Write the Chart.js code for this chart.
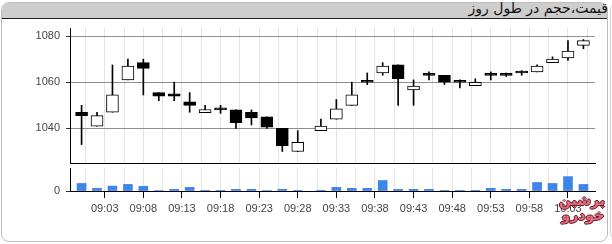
<!DOCTYPE html>
<html>
<head>
<meta charset="utf-8">
<script src="https://cdn.jsdelivr.net/npm/chart.js@4.4.1/dist/chart.umd.min.js"></script>
<style>
  html, body { margin: 0; padding: 0; background: #fff; }
  body { width: 612px; height: 244px; position: relative; overflow: hidden; }
  .frame {
    position: absolute; left: 1px; top: 2px; width: 605px; height: 238px;
    border: 1px solid #bdbdbd; border-radius: 8px; overflow: hidden; background: #fff;
  }
  .head {
    height: 15px; background: #cdcdcd; border-bottom: 1px solid #1e1e1e;
  }
  .title {
    position: absolute; right: 4px; top: 0px;
    font: 14px "DejaVu Sans", sans-serif; color: #111; direction: rtl; white-space: nowrap;
  }
  .side { position: absolute; left: 610px; top: 2px; width: 10px; height: 238px;
    border-left: 1px solid #cfcfcf; border-radius: 8px 0 0 8px; }
  .mark {
    position: absolute; left: 561px; top: 193px; width: 44px; text-align: center;
    font: bold 14px "DejaVu Sans", sans-serif; line-height: 15px; color: #e56d80; direction: rtl;
    text-shadow: -1px 0 #6a1e2a, 1px 0 #6a1e2a, 0 -1px #6a1e2a, 0 1px #6a1e2a;
  }
  canvas { position: absolute; left: 0; top: 0; }
</style>
</head>
<body>
<div class="frame"><div class="head"></div></div>
<div class="title">قیمت،حجم در طول روز</div>
<div class="side"></div>
<canvas id="priceChart" width="612" height="244"></canvas>
<canvas id="volumeChart" width="612" height="244"></canvas>
<div class="mark">پرشین<br>خودرو</div>
<script>
// داده‌های نمودار (خوانده شده از تصویر)
const times = ['09:00','09:02','09:04','09:06','09:08','09:10','09:12','09:14','09:16','09:18',
  '09:20','09:22','09:24','09:26','09:28','09:31','09:33','09:35','09:37','09:39',
  '09:41','09:43','09:45','09:47','09:49','09:51','09:53','09:55','09:57','09:59',
  '10:01','10:03','10:05'];
const opens  = [1047, 1041, 1047, 1061, 1068.5, 1055.5, 1055, 1051.5, 1046.8, 1048, 1048, 1047, 1045, 1040, 1030,
  1039, 1044, 1050, 1060, 1064, 1067.5, 1056.7, 1063, 1063, 1060, 1058.5, 1063, 1063, 1064, 1064.5, 1068.5, 1070.5, 1076];
const highs  = [1050, 1047, 1067.5, 1070, 1070, 1055.5, 1060, 1055.5, 1050, 1050, 1048, 1048, 1045, 1040, 1039,
  1044, 1052.5, 1060, 1064, 1068.5, 1067.5, 1061, 1064.5, 1063, 1061, 1061.5, 1064.5, 1064, 1065, 1067.5, 1071, 1078, 1078.5];
const lows   = [1033, 1041, 1047, 1061, 1054.5, 1052, 1052, 1047, 1046.8, 1046.5, 1040, 1041.5, 1040, 1030, 1030,
  1039, 1044, 1050, 1059, 1063, 1050, 1050, 1061, 1059, 1057.5, 1058.5, 1061, 1062.5, 1063, 1064.5, 1068.5, 1069.5, 1074.5];
const closes = [1045.5, 1045.5, 1054.5, 1067, 1066, 1054, 1054, 1050, 1048.2, 1048, 1042.5, 1044.5, 1040.5, 1032.5, 1034,
  1041, 1048.5, 1054.5, 1060, 1067, 1061.5, 1058.3, 1063, 1060, 1060, 1060, 1063, 1063, 1064, 1067, 1070, 1073.5, 1078];
// حجم معاملات (هزار سهم)
const volumes = [77, 27, 50, 67, 47, 5, 17, 37, 3, 3, 17, 17, 5, 17, 2,
  3, 37, 27, 27, 107, 17, 17, 17, 3, 2, 2, 27, 17, 17, 87, 77, 147, 67];
const priceTicks = [1040, 1060, 1080];
const volumeTicks = [0];

// دقیقه از ساعت 9
const toMin = (t) => {
  const [h, m] = t.split(':').map(Number);
  return (h - 9) * 60 + m;
};
const fmtMin = (v) => {
  const h = 9 + Math.floor(v / 60);
  const m = Math.round(v % 60);
  return String(h).padStart(2, '0') + ':' + String(m).padStart(2, '0');
};
const xs = times.map(toMin);
const X_MIN = -1.5, X_MAX = 66.5;
const gridVals = [];
for (let v = 0.5; v <= X_MAX; v += 2.5) gridVals.push(v);
const isMajor = (v) => Math.abs(((v - 3) % 5 + 5) % 5) < 0.01;

Chart.defaults.font.family = '"Liberation Sans", Arial, sans-serif';
Chart.defaults.font.size = 11;
Chart.defaults.color = '#444';

const bodyColors = opens.map((o, i) => closes[i] > o ? '#fff' : '#000');

const commonPlugins = { legend: { display: false }, tooltip: { enabled: false } };

new Chart(document.getElementById('priceChart'), {
  type: 'bar',
  data: {
    datasets: [
      {
        data: xs.map((x, i) => ({ x: x, y: [lows[i], highs[i]] })),
        backgroundColor: '#000',
        barThickness: 1,
        grouped: false,
        order: 2
      },
      {
        data: xs.map((x, i) => ({ x: x, y: [opens[i], closes[i]] })),
        backgroundColor: bodyColors,
        borderColor: '#000',
        borderWidth: 1,
        borderSkipped: false,
        barThickness: 12,
        minBarLength: 2,
        grouped: false,
        order: 1
      }
    ]
  },
  options: {
    responsive: false,
    animation: false,
    devicePixelRatio: 1,
    layout: { padding: { top: 28, bottom: 81, left: 0, right: 17 } },
    plugins: commonPlugins,
    scales: {
      x: {
        type: 'linear', min: X_MIN, max: X_MAX, offset: false,
        afterBuildTicks: (s) => { s.ticks = gridVals.map(v => ({ value: v })); },
        afterFit: (s) => { s.height = 0; },
        ticks: { display: false },
        grid: { color: '#e3e3e3', drawTicks: false, offset: false },
        border: { color: '#000', width: 1 }
      },
      y: {
        min: 1025, max: 1083.5,
        afterBuildTicks: (s) => { s.ticks = priceTicks.map(v => ({ value: v })); },
        afterFit: (s) => { s.width = 70; },
        ticks: { padding: 6, callback: (v) => String(v) },
        grid: { color: '#8e8e8e', tickLength: 4, tickColor: '#333' },
        border: { color: '#000', width: 1 }
      }
    }
  }
});

new Chart(document.getElementById('volumeChart'), {
  type: 'bar',
  data: {
    datasets: [{
      data: xs.map((x, i) => ({ x: x, y: volumes[i] })),
      backgroundColor: '#3d85e6',
      barThickness: 9
    }]
  },
  options: {
    responsive: false,
    animation: false,
    devicePixelRatio: 1,
    layout: { padding: { top: 168, bottom: 23, left: 0, right: 17 } },
    plugins: commonPlugins,
    scales: {
      x: {
        type: 'linear', min: X_MIN, max: X_MAX, offset: false,
        afterBuildTicks: (s) => { s.ticks = gridVals.map(v => ({ value: v })); },
        afterFit: (s) => { s.height = 30; },
        ticks: {
          autoSkip: false, maxRotation: 0, padding: 4,
          callback: (v) => isMajor(v) ? fmtMin(v) : ''
        },
        grid: {
          color: '#e3e3e3', tickLength: 7, offset: false,
          tickColor: (ctx) => ctx.tick && isMajor(ctx.tick.value) ? '#000' : 'rgba(0,0,0,0)'
        },
        border: { color: '#000', width: 1 }
      },
      y: {
        min: 0, max: 235,
        afterBuildTicks: (s) => { s.ticks = volumeTicks.map(v => ({ value: v })); },
        afterFit: (s) => { s.width = 70; },
        ticks: { padding: 6, callback: (v) => String(v) },
        grid: { drawOnChartArea: false, tickLength: 4, tickColor: '#333' },
        border: { color: '#000', width: 1 }
      }
    }
  }
});
</script>
</body>
</html>
